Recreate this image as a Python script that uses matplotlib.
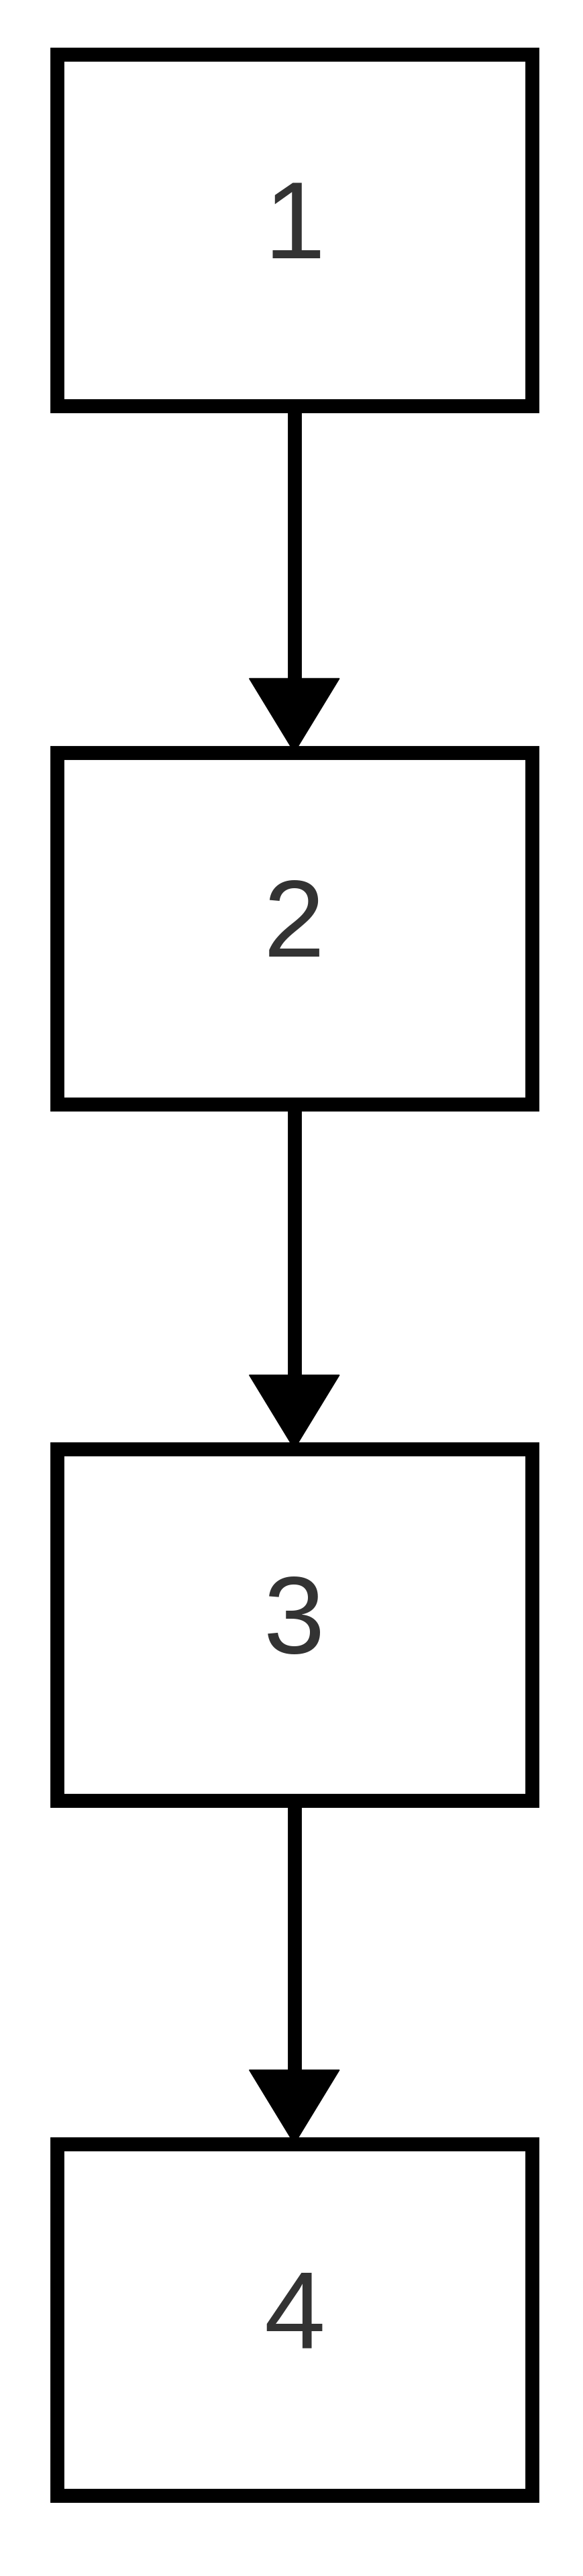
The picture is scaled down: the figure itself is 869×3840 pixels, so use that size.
import matplotlib.pyplot as plt
from matplotlib.patches import Rectangle, Polygon

# flowchart nodes (top to bottom), in reference pixel units of a 350x1568 canvas
labels = ["1", "2", "3", "4"]
box_tops = [33, 458, 882, 1305]
box_height = 214
box_left, box_right = 34, 319
center_x = (box_left + box_right) / 2

fig = plt.figure(figsize=(8.7, 38.4), dpi=100)
ax = fig.add_axes([0, 0, 1, 1])
ax.set_xlim(0, 350)
ax.set_ylim(1568, 0)
ax.axis("off")

lw = 15
for label, top in zip(labels, box_tops):
    ax.add_patch(Rectangle((box_left, top), box_right - box_left, box_height,
                           facecolor="white", edgecolor="black", linewidth=lw))
    ax.text(center_x, top + box_height / 2, label, ha="center", va="center",
            fontsize=118, color="#333333", family=["Liberation Sans", "DejaVu Sans"])

# arrows between consecutive boxes
head_w, head_h = 27, 45
for top_a, top_b in zip(box_tops[:-1], box_tops[1:]):
    start = top_a + box_height
    ax.plot([center_x, center_x], [start, top_b - head_h], color="black",
            linewidth=lw, solid_capstyle="butt")
    ax.add_patch(Polygon([(center_x - head_w, top_b - head_h),
                          (center_x + head_w, top_b - head_h),
                          (center_x, top_b)], closed=True,
                         facecolor="black", edgecolor="black", linewidth=1))

plt.savefig("out.png", dpi=100, facecolor="white")
plt.close()
